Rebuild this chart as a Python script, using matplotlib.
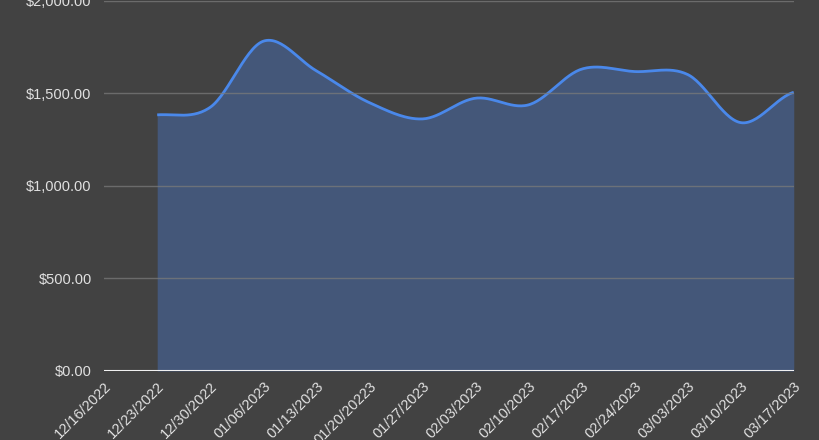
import numpy as np
import matplotlib.pyplot as plt

# weekly values, first week has no data
labels = ['12/16/2022', '12/23/2022', '12/30/2022', '01/06/2023', '01/13/2023',
          '01/20/20223', '01/27/2023', '02/03/2023', '02/10/2023', '02/17/2023',
          '02/24/2023', '03/03/2023', '03/10/2023', '03/17/2023']
values = [None, 1384, 1425, 1782, 1622, 1450, 1362, 1474, 1438, 1631, 1618, 1602, 1342, 1506]
yticks = [0, 500, 1000, 1500, 2000]

bg = '#424242'
line_col = '#4a88ea'
fill_col = '#445779'
text_col = '#e0e0e0'


def smooth(x, y, n=30):
    # catmull-rom curve through the points, only for drawing the line
    x = np.asarray(x, float)
    y = np.asarray(y, float)
    px = np.concatenate([[2 * x[0] - x[1]], x, [2 * x[-1] - x[-2]]])
    py = np.concatenate([[y[0]], y, [y[-1]]])
    xs, ys = [], []
    t = np.linspace(0, 1, n, endpoint=False)
    for i in range(1, len(px) - 2):
        for arr, out in ((px, xs), (py, ys)):
            p0, p1, p2, p3 = arr[i - 1], arr[i], arr[i + 1], arr[i + 2]
            out.extend(0.5 * ((2 * p1) + (-p0 + p2) * t
                              + (2 * p0 - 5 * p1 + 4 * p2 - p3) * t ** 2
                              + (-p0 + 3 * p1 - 3 * p2 + p3) * t ** 3))
    xs.append(x[-1])
    ys.append(y[-1])
    return np.array(xs), np.array(ys)


idx = [i for i, v in enumerate(values) if v is not None]
vals = [values[i] for i in idx]
sx, sy = smooth(idx, vals)

fig = plt.figure(figsize=(8.2, 4.4), dpi=100, facecolor=bg)
ax = fig.add_axes([0.127, 0.157, 0.841, 0.841])
ax.set_facecolor(bg)

ax.fill_between(sx, 0, sy, color=fill_col, lw=0, zorder=2)
ax.plot(sx, sy, color=line_col, lw=2, zorder=3, solid_capstyle='butt')

ax.set_xlim(0, len(labels) - 1)
ax.set_ylim(0, 2000)
ax.set_yticks(yticks)
ax.set_yticklabels([f'${v:,.2f}' for v in yticks])
ax.set_xticks(range(len(labels)))
ax.set_xticklabels(labels, rotation=45, ha='right', rotation_mode='anchor')

for v in yticks[1:]:
    ax.axhline(v, color='#7a7a7a', lw=1, zorder=4 if v != 2000 else 1, alpha=0.75)
ax.axhline(0, color='#f0f0f0', lw=1.5, zorder=5)

for s in ax.spines.values():
    s.set_visible(False)
ax.tick_params(axis='both', length=0, colors=text_col, labelsize=10.5)
ax.tick_params(axis='y', pad=9)
ax.tick_params(axis='x', pad=6)
for t in ax.get_xticklabels() + ax.get_yticklabels():
    t.set_fontfamily('Liberation Sans')

fig.savefig('out.png', facecolor=bg)
